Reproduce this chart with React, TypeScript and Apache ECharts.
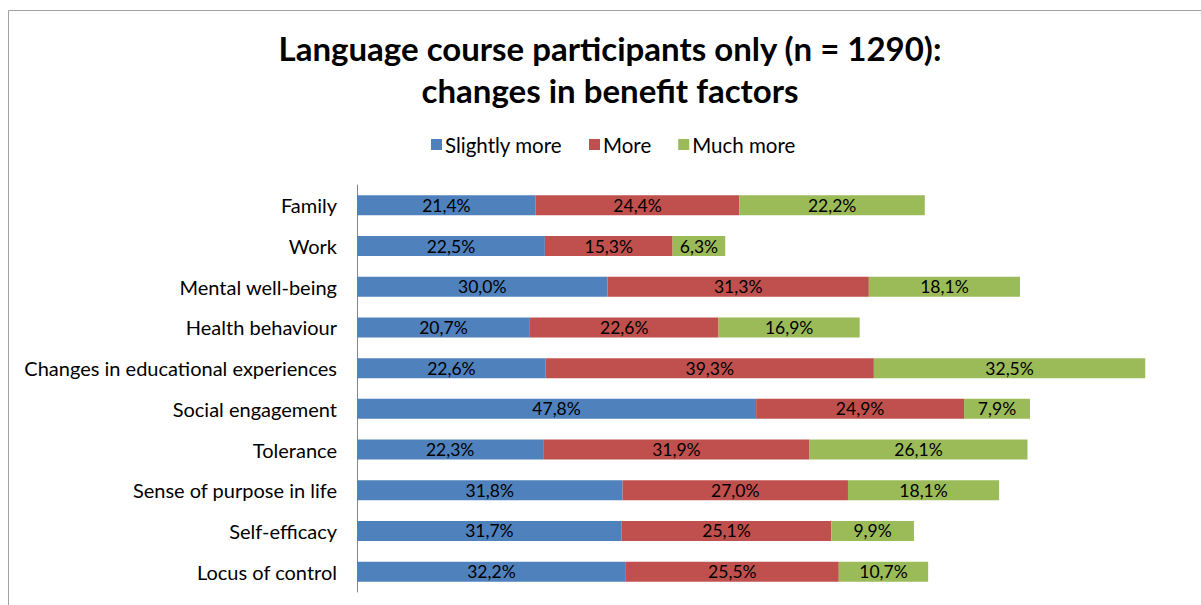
import React, { useEffect, useRef } from "react";
import * as echarts from "echarts";

const categories = [
  "Family",
  "Work",
  "Mental well-being",
  "Health behaviour",
  "Changes in educational experiences",
  "Social engagement",
  "Tolerance",
  "Sense of purpose in life",
  "Self-efficacy",
  "Locus of control",
];
const slightlyMore = [21.4, 22.5, 30.0, 20.7, 22.6, 47.8, 22.3, 31.8, 31.7, 32.2];
const more = [24.4, 15.3, 31.3, 22.6, 39.3, 24.9, 31.9, 27.0, 25.1, 25.5];
const muchMore = [22.2, 6.3, 18.1, 16.9, 32.5, 7.9, 26.1, 18.1, 9.9, 10.7];
const seriesNames = ["Slightly more", "More", "Much more"];
const colors = ["#4F81BD", "#C0504D", "#9BBB59"];

const FONT = "Lato, 'Open Sans', sans-serif";

export default function App() {
  const ref = useRef<HTMLDivElement>(null);
  useEffect(() => {
    if (!ref.current) return;
    const chart = echarts.init(ref.current, undefined, { renderer: "svg" });
    const data = [slightlyMore, more, muchMore];
    chart.setOption({
      animation: false,
      textStyle: { fontFamily: FONT },
      title: {
        text: "Language course participants only (n = 1290):\nchanges in benefit factors",
        left: 610,
        top: 27,
        padding: 0,
        textAlign: "center",
        textStyle: {
          fontFamily: FONT,
          fontSize: 33,
          fontWeight: "bold",
          color: "#000",
          lineHeight: 42,
        },
      },
      legend: {
        data: seriesNames,
        left: 431,
        top: 134,
        padding: 0,
        icon: "rect",
        itemWidth: 11,
        itemHeight: 11,
        itemGap: 27,
        textStyle: { fontFamily: FONT, fontSize: 20.5, color: "#000", padding: [0, 0, 0, -2] },
      },
      graphic: [
        {
          type: "rect",
          shape: { x: 8.5, y: 10.5, width: 1400, height: 800 },
          style: { fill: "none", stroke: "#A0A0A0", lineWidth: 1 },
          silent: true,
        },
      ],
      grid: { left: 357, top: 185, width: 835, height: 407 },
      xAxis: {
        type: "value",
        min: 0,
        max: 100,
        show: false,
      },
      yAxis: {
        type: "category",
        data: categories,
        inverse: true,
        axisLine: { show: true, lineStyle: { color: "#868686", width: 1 } },
        axisTick: { show: false },
        axisLabel: { fontFamily: FONT, fontSize: 20, color: "#000", margin: 20 },
      },
      series: seriesNames.map((name, i) => ({
        name,
        type: "bar",
        stack: "total",
        barWidth: 20,
        data: data[i],
        itemStyle: { color: colors[i] },
        label: {
          show: true,
          position: "inside",
          fontFamily: FONT,
          fontSize: 17.5,
          color: "#000",
          formatter: (p: any) => p.value.toFixed(1).replace(".", ",") + "%",
        },
      })),
    });
    return () => chart.dispose();
  }, []);
  return (
    <div
      ref={ref}
      style={{ position: "fixed", left: 0, top: 0, width: 1201, height: 605, background: "#fff" }}
    />
  );
}
